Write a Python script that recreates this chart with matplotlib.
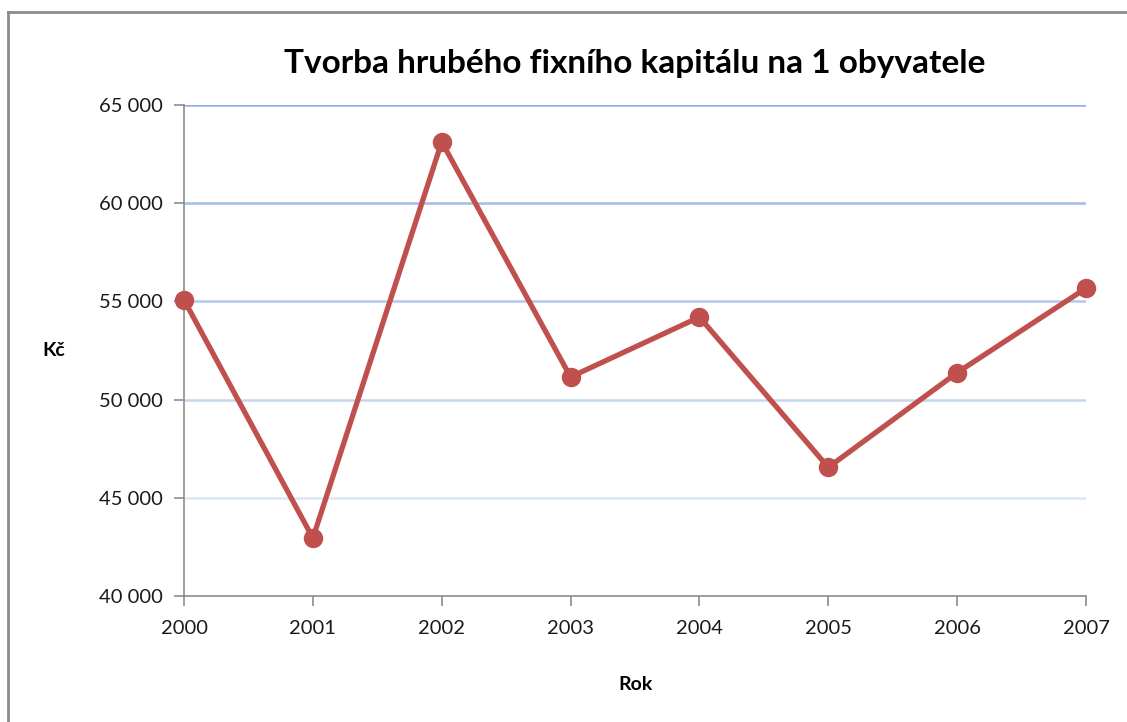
import matplotlib.pyplot as plt
from matplotlib.lines import Line2D
from matplotlib.ticker import FuncFormatter

plt.rcParams['font.family'] = ['Lato', 'DejaVu Sans']

# Data
years = [2000, 2001, 2002, 2003, 2004, 2005, 2006, 2007]
values = [55070, 42950, 63120, 51150, 54200, 46550, 51370, 55670]
yticks = [40000, 45000, 50000, 55000, 60000, 65000]
grid_colors = ['#dce6f2', '#c6d6ee', '#b4c9ea', '#a2bce6', '#92b0e2']

fig = plt.figure(figsize=(11.27, 7.22), dpi=100)
ax = fig.add_axes([0.1633, 0.1745, 0.8003, 0.6801])

# gradient-like gridlines (lighter at the bottom)
for y, c in zip(yticks[1:], grid_colors):
    ax.axhline(y, color=c, lw=1.8, zorder=1)

ax.plot(years, values, color='#c0504d', lw=3.8, marker='o', markersize=13,
        zorder=3, clip_on=False)

ax.set_xlim(2000, 2007)
ax.set_ylim(40000, 65000)
ax.set_xticks(years)
ax.set_yticks(yticks)
ax.yaxis.set_major_formatter(FuncFormatter(lambda v, p: f"{int(v):,}".replace(",", " ")))

for s in ['top', 'right']:
    ax.spines[s].set_visible(False)
for s in ['left', 'bottom']:
    ax.spines[s].set_color('#8c8c8c')
    ax.spines[s].set_linewidth(1.2)
ax.tick_params(axis='both', colors='#8c8c8c', length=7, width=1.2, labelsize=14.5,
               labelcolor='#1a1a1a')
ax.tick_params(axis='x', pad=10)
ax.tick_params(axis='y', pad=8)

ax.set_title("Tvorba hrubého fixního kapitálu na 1 obyvatele", fontsize=24,
             fontweight='bold', pad=23)
ax.set_xlabel("Rok", fontsize=14, fontweight='bold', labelpad=28)
ax.set_ylabel("Kč", fontsize=14, fontweight='bold', rotation=0, labelpad=33, va='center')

# chart area border (left and top edges visible)
fig.add_artist(Line2D([8 / 1127, 8 / 1127], [0, 1 - 12 / 722], color='#8c8c8c', lw=2))
fig.add_artist(Line2D([8 / 1127, 1], [1 - 12 / 722, 1 - 12 / 722], color='#8c8c8c', lw=2))

plt.savefig("out.png", dpi=100)
